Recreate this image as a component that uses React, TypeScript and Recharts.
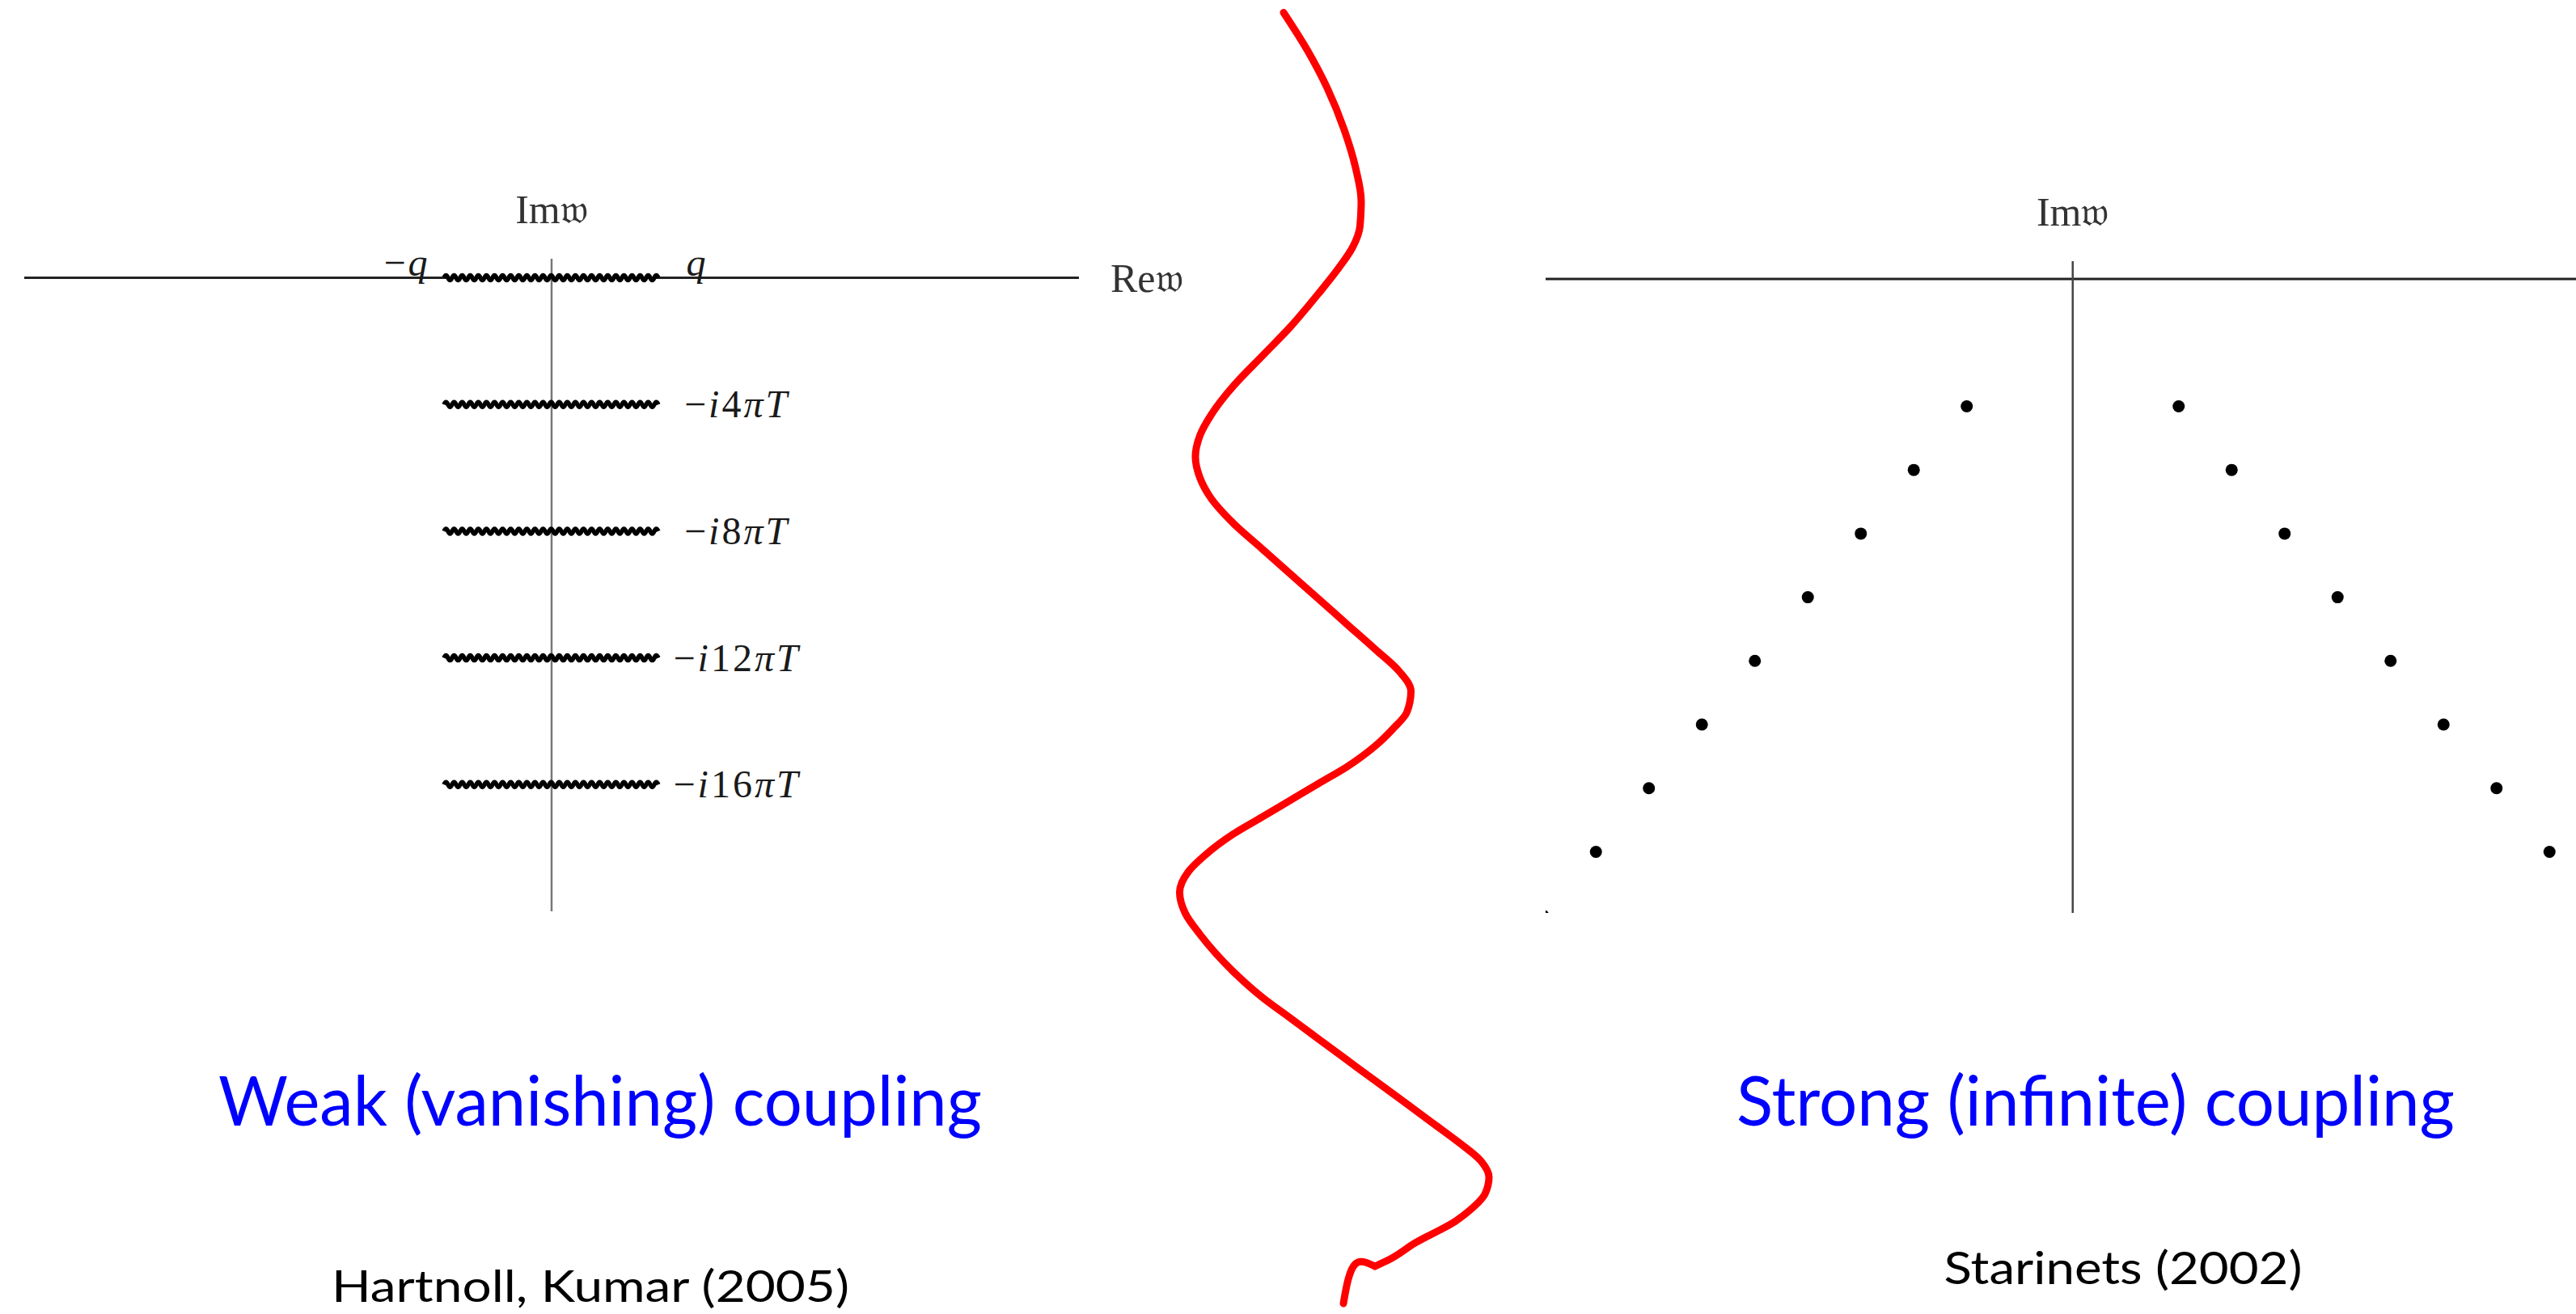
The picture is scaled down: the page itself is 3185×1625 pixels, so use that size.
import React from "react";
import {
	ComposedChart,
	ScatterChart,
	Scatter,
	XAxis,
	YAxis,
	ReferenceLine,
	Label,
} from "recharts";

// weak coupling: branch cuts from -q to q at Im w = -i 4n pi T (units of pi T)
const cutImag = [0, -4, -8, -12, -16];
const cutHalfWidth = 1; // q
const cutRightLabels = ["q", "−i4πT", "−i8πT", "−i12πT", "−i16πT"];
const cutLeftLabels = ["−q", "", "", "", ""];

// strong coupling: quasinormal poles, mirrored in Re w
const poleRe = [2, 3, 4, 5, 6, 7, 8, 9, 10];
const poleIm = [-2, -3, -4, -5, -6, -7, -8, -9, -10];

// hand drawn red divider, in % of its own box (body + little hook at the end)
const redX = [
	37.4, 43.3, 48.2, 52.4, 55.2, 56.6, 56.3, 54.5, 51.0, 46.1, 39.1, 32.1, 25.1,
	19.5, 16.7, 15.6, 16.7, 19.5, 25.1, 32.1, 39.1, 46.1, 53.1, 60.1, 65.8, 68.9,
	67.9, 64.4, 60.1, 53.1, 46.1, 39.1, 32.1, 25.1, 18.1, 13.9, 11.7, 13.1, 16.7,
	25.1, 32.1, 39.1, 46.1, 53.1, 60.1, 67.2, 74.2, 81.2, 86.1, 88.2, 87.2, 83.3,
	80.0, 70.0, 63.4, 60.0,
];
const redY = [
	0.95, 3.83, 6.7, 9.88, 12.76, 15.3, 17.22, 18.81, 20.41, 22.32, 24.87, 27.1,
	29.34, 31.57, 33.16, 34.76, 36.35, 37.94, 39.86, 41.77, 43.68, 45.59, 47.51,
	49.42, 51.02, 52.61, 54.2, 55.48, 56.76, 58.35, 59.62, 60.9, 62.18, 63.45,
	65.05, 66.32, 67.91, 69.51, 71.1, 73.98, 75.89, 77.48, 79.08, 80.67, 82.26,
	83.86, 85.45, 87.05, 88.32, 89.59, 90.87, 92.15, 92.92, 94.58, 95.88, 96.37,
];
const hookX = [60.0, 57.6, 55.2, 53.4, 52.2];
const hookY = [96.37, 96.06, 96.18, 97.35, 99.2];

const titles = ["Weak (vanishing) coupling", "Strong (infinite) coupling"];
const sources = ["Hartnoll, Kumar (2005)", "Starinets (2002)"];

const poleData = poleRe.flatMap((re, i) => [
	{ re, im: poleIm[i] },
	{ re: -re, im: poleIm[i] },
]);
const redData = redX.map((x, i) => ({ x, y: redY[i] }));
const hookData = hookX.map((x, i) => ({ x, y: hookY[i] }));

const SERIF = "'Liberation Serif', 'Times New Roman', serif";
const SANS = "Lato, 'Open Sans', sans-serif";

function MathText({ x, y, text }: { x: number; y: number; text: string }) {
	return (
		<text
			x={x}
			y={y}
			textAnchor="middle"
			fontFamily={SERIF}
			fontSize={48}
			fill="#1a1a1a"
			letterSpacing={3}
		>
			{Array.from(text).map((ch, i) => (
				<tspan
					// biome-ignore lint/suspicious/noArrayIndexKey: glyph order is fixed
					key={i}
					fontStyle={/[a-zA-Zπ]/.test(ch) ? "italic" : "normal"}
				>
					{ch}
				</tspan>
			))}
		</text>
	);
}

const wavyPath = (x1: number, x2: number, y: number) => {
	const period = 10;
	const amp = 3;
	let d = `M${x1},${y} Q${x1 + period / 4},${y - 2 * amp} ${x1 + period / 2},${y}`;
	for (let x = x1 + period; x <= x2 + 0.01; x += period / 2) d += ` T${x},${y}`;
	return d;
};

const cutShape = (index: number) => (props: any) => {
	const { x1, x2, y1 } = props;
	const top = index === 0;
	const ly = top ? y1 - 3 : y1 + 16;
	return (
		<g>
			<path
				d={wavyPath(x1, x2, y1)}
				fill="none"
				stroke="#000"
				strokeWidth={5.5}
				strokeLinejoin="round"
			/>
			{cutRightLabels[index] && (
				<MathText x={x2 + (top ? 47 : 96)} y={ly} text={cutRightLabels[index]} />
			)}
			{cutLeftLabels[index] && (
				<MathText x={x1 - 46} y={ly} text={cutLeftLabels[index]} />
			)}
		</g>
	);
};

const axisLabel = {
	fill: "#333",
	fontSize: 50,
	fontFamily: SERIF,
};

const redLine = {
	stroke: "#ff0000",
	strokeWidth: 9,
	strokeLinecap: "round" as const,
	strokeLinejoin: "round" as const,
};

export default function App() {
	return (
		<div
			style={{
				position: "absolute",
				left: 0,
				top: 0,
				width: 3185,
				height: 1625,
				background: "#fff",
				overflow: "hidden",
			}}
		>
			{/* weak coupling panel */}
			<div style={{ position: "absolute", left: 0, top: 0 }}>
				<ComposedChart
					width={1500}
					height={1200}
					data={cutImag.map((im) => ({ re: 0, im }))}
					margin={{ top: 320, right: 166, bottom: 73, left: 30 }}
				>
					<XAxis type="number" dataKey="re" domain={[-4.9, 4.9]} hide allowDataOverflow />
					<YAxis type="number" dataKey="im" domain={[-20, 0.6]} hide allowDataOverflow />
					<ReferenceLine y={0} stroke="#222" strokeWidth={3}>
						<Label value="Re𝔴" position="right" offset={39} {...axisLabel} />
					</ReferenceLine>
					<ReferenceLine x={0} stroke="#777" strokeWidth={2.5}>
						<Label value="Im𝔴" position="top" offset={44} {...axisLabel} />
					</ReferenceLine>
					{cutImag.map((im, i) => (
						<ReferenceLine
							key={im}
							segment={[
								{ x: -cutHalfWidth, y: im },
								{ x: cutHalfWidth, y: im },
							]}
							shape={cutShape(i)}
						/>
					))}
				</ComposedChart>
			</div>

			{/* strong coupling panel */}
			<div style={{ position: "absolute", left: 1850, top: 0 }}>
				<ComposedChart
					width={1335}
					height={1200}
					data={poleData}
					margin={{ top: 323, right: 0, bottom: 71, left: 61 }}
				>
					<XAxis type="number" dataKey="re" domain={[-9.95, 9.5]} hide allowDataOverflow />
					<YAxis type="number" dataKey="im" domain={[-9.96, 0.28]} hide allowDataOverflow />
					<ReferenceLine y={0} stroke="#222" strokeWidth={3} />
					<ReferenceLine x={0} stroke="#444" strokeWidth={2.5}>
						<Label value="Im𝔴" position="top" offset={44} {...axisLabel} />
					</ReferenceLine>
					<Scatter
						data={poleData}
						dataKey="im"
						isAnimationActive={false}
						shape={(p: any) => <circle cx={p.cx} cy={p.cy} r={7.5} fill="#000" />}
					/>
				</ComposedChart>
			</div>

			{/* red divider */}
			<div style={{ position: "absolute", left: 1400, top: 0 }}>
				<ScatterChart
					width={500}
					height={1625}
					margin={{ top: 0, right: 0, bottom: 0, left: 0 }}
				>
					<XAxis type="number" dataKey="x" domain={[0, 100]} hide />
					<YAxis type="number" dataKey="y" domain={[0, 100]} reversed hide />
					<Scatter
						data={redData}
						fill="#ff0000"
						isAnimationActive={false}
						line={redLine}
						lineType="joint"
						lineJointType="monotoneY"
						shape={() => <g />}
					/>
					<Scatter
						data={hookData}
						fill="#ff0000"
						isAnimationActive={false}
						line={redLine}
						lineType="joint"
						lineJointType="natural"
						shape={() => <g />}
					/>
				</ScatterChart>
			</div>

			{/* captions */}
			<svg
				width={3185}
				height={1625}
				style={{ position: "absolute", left: 0, top: 0, pointerEvents: "none" }}
			>
				<text
					x={742}
					y={1392}
					textAnchor="middle"
					fontFamily={SANS}
					fontSize={86}
					fill="#0000ff"
					textLength={944}
					lengthAdjust="spacingAndGlyphs"
				>
					{titles[0]}
				</text>
				<text
					x={2591}
					y={1392}
					textAnchor="middle"
					fontFamily={SANS}
					fontSize={86}
					fill="#0000ff"
					textLength={888}
					lengthAdjust="spacingAndGlyphs"
				>
					{titles[1]}
				</text>
				<text
					x={730}
					y={1610}
					textAnchor="middle"
					fontFamily={SANS}
					fontSize={55}
					fill="#000"
					textLength={640}
					lengthAdjust="spacingAndGlyphs"
				>
					{sources[0]}
				</text>
				<text
					x={2625}
					y={1588}
					textAnchor="middle"
					fontFamily={SANS}
					fontSize={57}
					fill="#000"
					textLength={443}
					lengthAdjust="spacingAndGlyphs"
				>
					{sources[1]}
				</text>
			</svg>
		</div>
	);
}
